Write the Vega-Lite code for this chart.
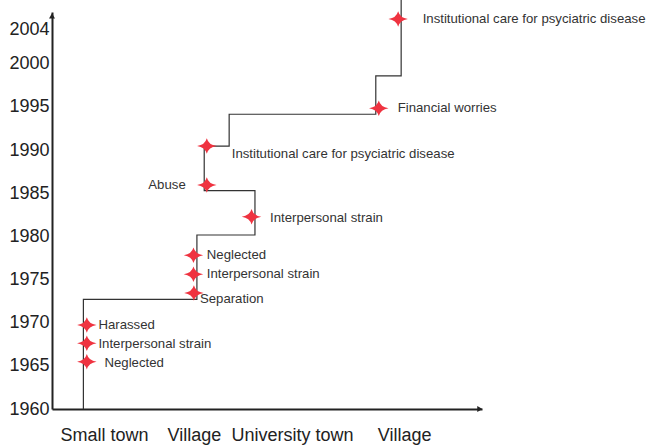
{
  "$schema": "https://vega.github.io/schema/vega-lite/v6.json",
  "autosize": "none",
  "width": 430,
  "height": 397,
  "padding": {"left": 52, "top": 12, "right": 169, "bottom": 38},
  "background": "white",
  "config": {
    "view": {"stroke": null},
    "font": "Liberation Sans",
    "axis": {"grid": false, "ticks": false, "domainColor": "#222", "domainWidth": 2, "labelColor": "#222", "labelFont": "Liberation Sans", "labelFontSize": 18, "title": null}
  },
  "datasets": {
    "path": [
      {"step": 1, "x": 0.73, "year": 1960},
      {"step": 2, "x": 0.73, "year": 1972.71},
      {"step": 3, "x": 3.37, "year": 1972.71},
      {"step": 4, "x": 3.37, "year": 1980.16},
      {"step": 5, "x": 4.72, "year": 1980.16},
      {"step": 6, "x": 4.72, "year": 1985.3},
      {"step": 7, "x": 3.54, "year": 1985.3},
      {"step": 8, "x": 3.54, "year": 1990.47},
      {"step": 9, "x": 4.12, "year": 1990.47},
      {"step": 10, "x": 4.12, "year": 1994.15},
      {"step": 11, "x": 7.53, "year": 1994.15},
      {"step": 12, "x": 7.53, "year": 1998.59},
      {"step": 13, "x": 8.12, "year": 1998.59},
      {"step": 14, "x": 8.12, "year": 2007.39}
    ],
    "events": [
      {"event": "Neglected", "x": 0.81, "year": 1965.48, "lx": 1.22, "ly": 1965.36},
      {"event": "Interpersonal strain", "x": 0.81, "year": 1967.61, "lx": 1.08, "ly": 1967.53},
      {"event": "Harassed", "x": 0.81, "year": 1969.73, "lx": 1.08, "ly": 1969.73},
      {"event": "Separation", "x": 3.3, "year": 1973.44, "lx": 3.44, "ly": 1972.71},
      {"event": "Interpersonal strain", "x": 3.29, "year": 1975.61, "lx": 3.6, "ly": 1975.61},
      {"event": "Neglected", "x": 3.29, "year": 1977.81, "lx": 3.6, "ly": 1977.81},
      {"event": "Interpersonal strain", "x": 4.64, "year": 1982.28, "lx": 5.07, "ly": 1982.17},
      {"event": "Abuse", "x": 3.6, "year": 1985.96, "lx": 2.24, "ly": 1985.96},
      {"event": "Institutional care for psyciatric disease", "x": 3.6, "year": 1990.47, "lx": 4.18, "ly": 1989.55},
      {"event": "Financial worries", "x": 7.6, "year": 1994.84, "lx": 8.04, "ly": 1994.84},
      {"event": "Institutional care for psyciatric disease", "x": 8.05, "year": 2005.19, "lx": 8.62, "ly": 2005.16}
    ],
    "arrows": [
      {"x": 9.95, "year": 1960, "shape": "triangle-right"},
      {"x": 0, "year": 2005.54, "shape": "triangle-up"}
    ]
  },
  "layer": [
    {
      "data": {"name": "path"},
      "mark": {"type": "line", "color": "#333", "strokeWidth": 1.2, "clip": false},
      "encoding": {
        "x": {"field": "x", "type": "quantitative", "scale": {"domain": [0, 10], "nice": false, "zero": false},
              "axis": {"values": [1.21, 3.3, 5.58, 8.19], "labelPadding": 17,
                       "labelExpr": "datum.value < 2 ? 'Small town' : datum.value < 4 ? 'Village' : datum.value < 7 ? 'University town' : 'Village'"}},
        "y": {"field": "year", "type": "quantitative", "scale": {"domain": [1960, 2006], "nice": false, "zero": false},
              "axis": {"values": [1960, 1965, 1970, 1975, 1980, 1985, 1990, 1995, 2000, 2004], "format": "d", "labelPadding": 3}},
        "order": {"field": "step", "type": "quantitative"}
      }
    },
    {
      "data": {"name": "arrows"},
      "mark": {"type": "point", "filled": true, "color": "#222", "opacity": 1, "size": 36, "clip": false},
      "encoding": {
        "x": {"field": "x", "type": "quantitative"},
        "y": {"field": "year", "type": "quantitative"},
        "shape": {"field": "shape", "type": "nominal", "scale": null}
      }
    },
    {
      "data": {"name": "events"},
      "mark": {"type": "point", "filled": true, "color": "#ef3340", "opacity": 1, "size": 380,
               "shape": "M -1 0 Q -0.18 -0.12 0 -0.8 Q 0.18 -0.12 1 0 Q 0.18 0.12 0 0.8 Q -0.18 0.12 -1 0 Z"},
      "encoding": {
        "x": {"field": "x", "type": "quantitative"},
        "y": {"field": "year", "type": "quantitative"}
      }
    },
    {
      "data": {"name": "events"},
      "mark": {"type": "text", "align": "left", "baseline": "middle", "fontSize": 13.2, "color": "#333", "font": "Liberation Sans"},
      "encoding": {
        "x": {"field": "lx", "type": "quantitative"},
        "y": {"field": "ly", "type": "quantitative"},
        "text": {"field": "event", "type": "nominal"}
      }
    }
  ]
}
